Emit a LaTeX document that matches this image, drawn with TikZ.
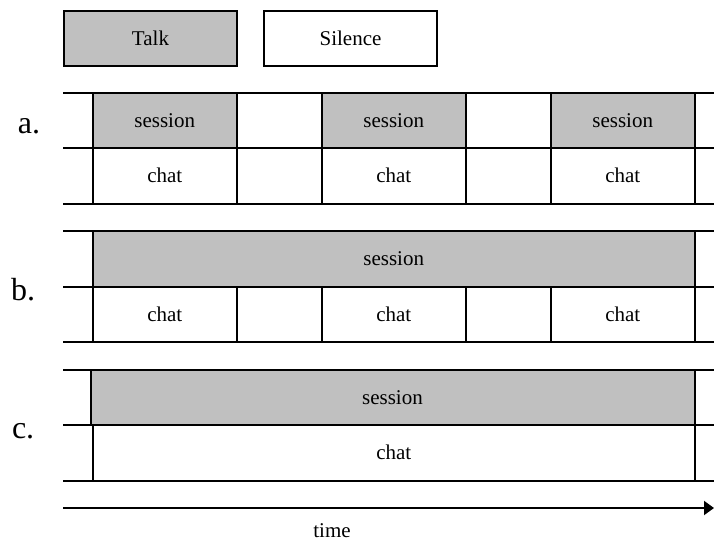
\documentclass[tikz,border=0pt]{standalone}
\usepackage{fontspec}
\setmainfont{Liberation Serif}
\usetikzlibrary{arrows.meta}
\definecolor{talkgray}{RGB}{192,192,192}

\begin{document}
\begin{tikzpicture}[x=0.5pt, y=-0.5pt, line width=1pt, >={Triangle[length=5pt, width=7pt]},
        talk/.style={draw, fill=talkgray, inner sep=0pt, outer sep=0pt, font=\fontsize{10.5}{12}\selectfont},
        silence/.style={draw, fill=white, inner sep=0pt, outer sep=0pt, font=\fontsize{10.5}{12}\selectfont},
        cell/.style={minimum width=71.75pt, minimum height=27.75pt, anchor=north west},
        rowlabel/.style={anchor=base west, inner sep=0pt, font=\fontsize{16}{19}\selectfont}]
        \useasboundingbox (0,0) rectangle (714,543);

        \node [talk, minimum width=86.5pt, minimum height=27.5pt] (talk) at (150.5,38.5) {Talk};
        \node [silence, minimum width=86.5pt, minimum height=27.5pt] (silence) at (350.5,38.5) {Silence};

        \foreach \y in {92.5, 148, 203.5, 231, 286.5, 342, 369.5, 425, 480.5}
        {
            \draw (63,\y) -- (714,\y);
        }

        \foreach \i/\x in {1/93, 2/322, 3/551}
        {
            \node [talk, cell] (sessa\i) at (\x,92.5) {session};
            \node [silence, cell] (chata\i) at (\x,148) {chat};
            \node [silence, cell] (chatb\i) at (\x,286.5) {chat};
        }

        \node [talk, minimum width=300.75pt, minimum height=27.75pt, anchor=north west] (sessb) at (93,231) {session};
        \node [talk, minimum width=302pt, minimum height=27.75pt, anchor=north west] (sessc) at (90.5,369.5) {session};
        \node [silence, minimum width=300.75pt, minimum height=27.75pt, anchor=north west] (chatc) at (93,425) {chat};

        \node [rowlabel] (rowa) at (17,133) {a.};
        \node [rowlabel] (rowb) at (10,300) {b.};
        \node [rowlabel] (rowc) at (11,438) {c.};

        \draw [->] (63,508) -- (714,508);
        \node [font=\fontsize{10.5}{12}\selectfont] (time) at (332,531) {time};
    \end{tikzpicture}
\end{document}
